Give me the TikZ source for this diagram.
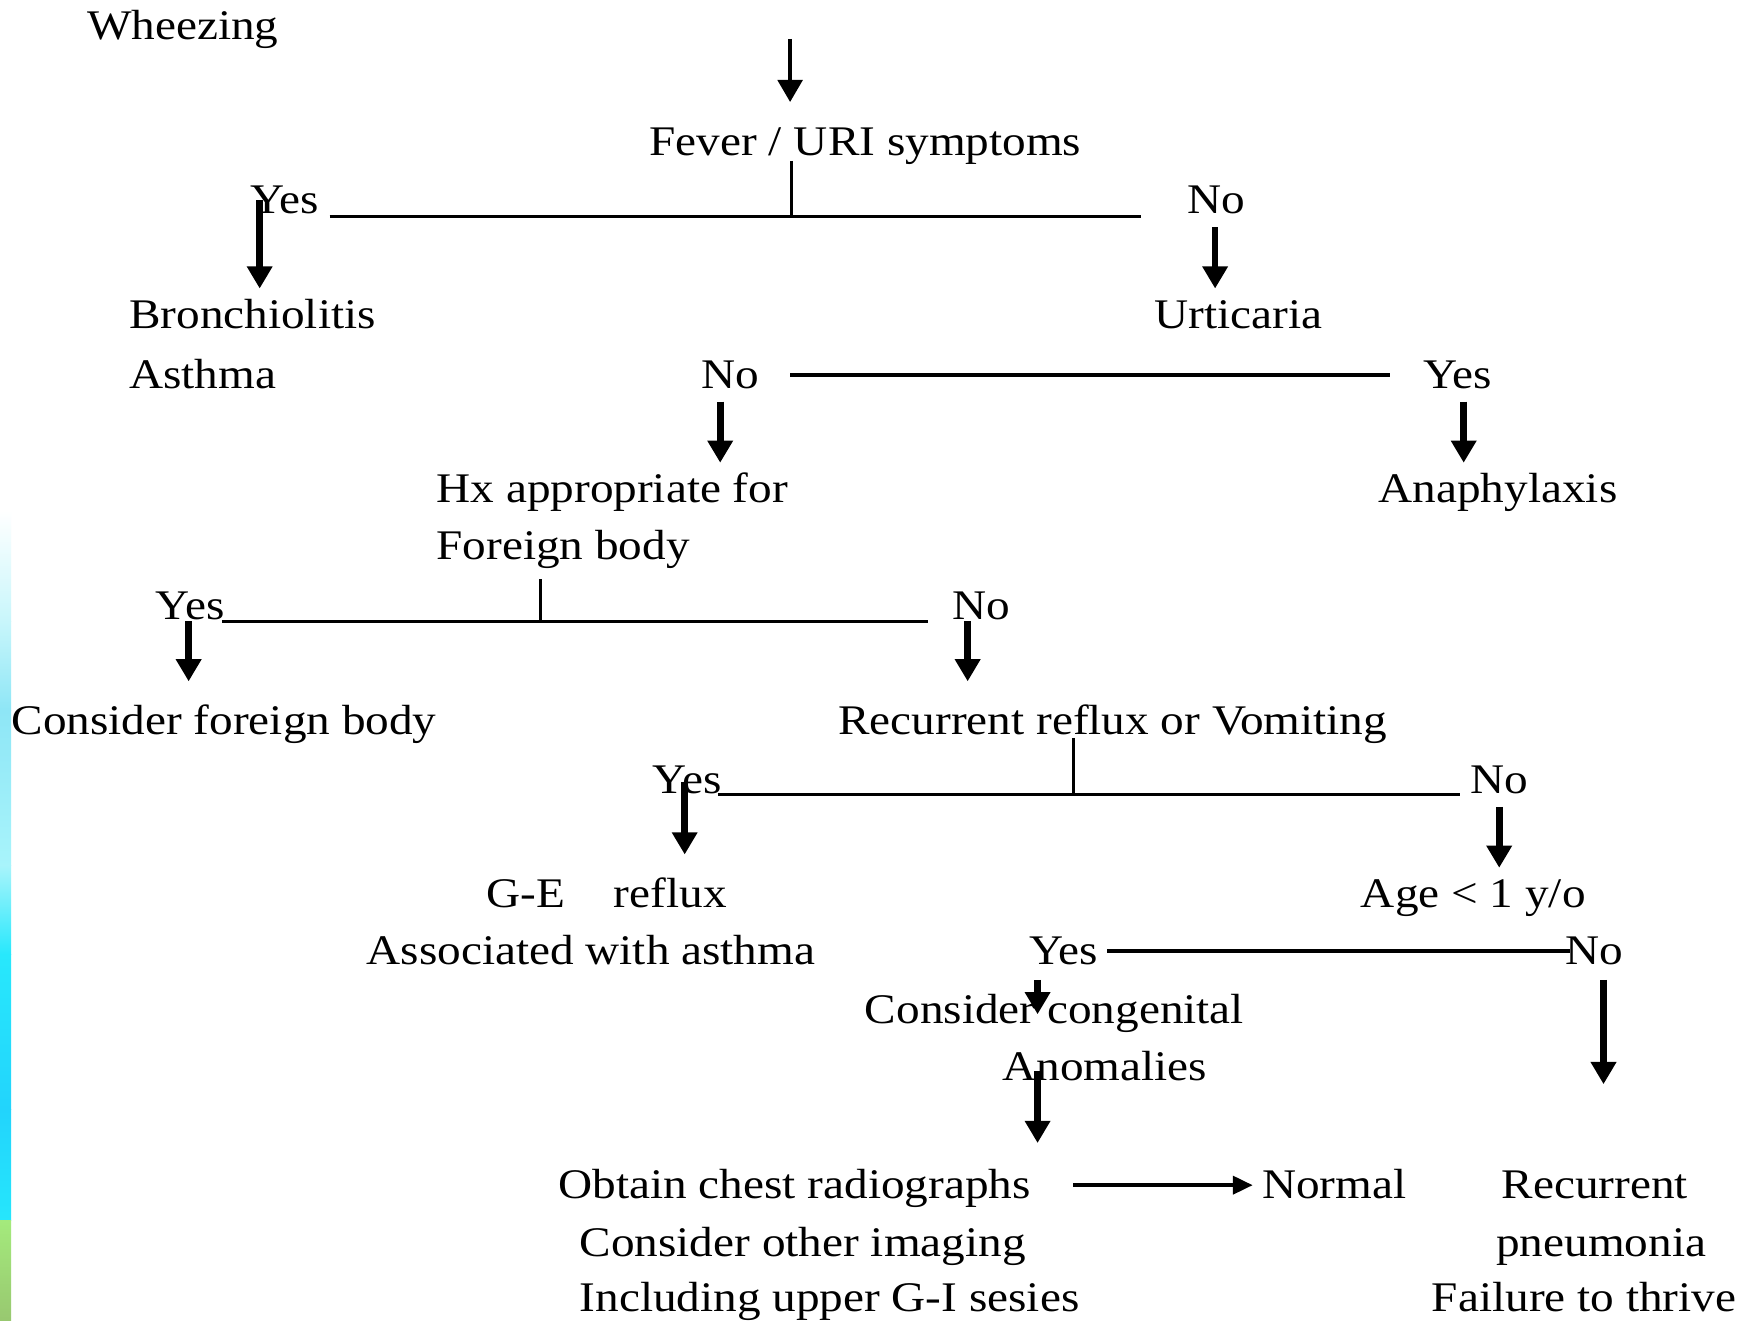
\documentclass[tikz,border=0pt]{standalone}
\usepackage{fontspec}
\setmainfont{Liberation Serif}[FakeStretch=1.12]
\usetikzlibrary{arrows.meta}
\definecolor{sA}{HTML}{C8F6FB}
\definecolor{sB}{HTML}{8EE6F6}
\definecolor{sC}{HTML}{A8F4FB}
\definecolor{sD}{HTML}{28E8FC}
\definecolor{sE}{HTML}{22D4FC}
\definecolor{sF}{HTML}{26E6FC}
\definecolor{gA}{HTML}{A4EA7C}
\definecolor{gB}{HTML}{98C870}
\begin{document}
\begin{tikzpicture}[x=0.5pt,y=-0.5pt,
  txt/.style={inner sep=0pt,anchor=base west,font=\fontsize{19}{27}\selectfont},
  arr/.style={line width=3pt,-{Triangle[width=11pt,length=10pt]}},
  harr/.style={line width=2pt,-{Triangle[width=8pt,length=9pt]}},
  hline/.style={line width=1.7pt},
  stub/.style={line width=1.4pt}]
\useasboundingbox (0,0) rectangle (1568,1190);
\fill[white] (0,0) rectangle (1568,1190);
% left strip
\shade[top color=white,bottom color=sA] (0,460) rectangle (10,560);
\shade[top color=sA,bottom color=sB] (0,560) rectangle (10,640);
\shade[top color=sB,bottom color=sC] (0,640) rectangle (10,780);
\shade[top color=sC,bottom color=sD] (0,780) rectangle (10,860);
\shade[top color=sD,bottom color=sE] (0,860) rectangle (10,1000);
\shade[top color=sE,bottom color=sF] (0,1000) rectangle (10,1100);
\shade[top color=gA,bottom color=gB] (0,1100) rectangle (10,1190);

% texts
\node[txt] (wheez) at (78,36) {Wheezing};
\node[txt] (fever) at (585,140) {Fever / URI symptoms};
\node[txt] (yes1) at (225,192) {Yes};
\node[txt] (no1) at (1070,192) {No};
\node[txt] (bron) at (116,296) {Bronchiolitis};
\node[txt] (asth) at (116,350) {Asthma};
\node[txt] (urt) at (1040,296) {Urticaria};
\node[txt] (no2) at (632,350) {No};
\node[txt] (yes2) at (1282,350) {Yes};
\node[txt] (hx) at (393,453) {Hx appropriate for};
\node[txt] (fb) at (393,504) {Foreign body};
\node[txt] (ana) at (1242,453) {Anaphylaxis};
\node[txt] (yes3) at (140,558) {Yes};
\node[txt] (no3) at (858,558) {No};
\node[txt] (cfb) at (10,662) {Consider foreign body};
\node[txt] (rrv) at (755,662) {Recurrent reflux or Vomiting};
\node[txt] (yes4) at (588,715) {Yes};
\node[txt] (no4) at (1325,715) {No};
\node[txt] (ge) at (438,818) {G-E\hspace{22pt}reflux};
\node[txt] (assoc) at (330,869) {Associated with asthma};
\node[txt] (age) at (1226,818) {Age < 1 y/o};
\node[txt] (yes5) at (927,869) {Yes};
\node[txt] (no5) at (1410,869) {No};
\node[txt] (cc) at (779,922) {Consider congenital};
\node[txt] (anom) at (903,974) {Anomalies};
\node[txt] (obt) at (503,1080) {Obtain chest radiographs};
\node[txt] (coi) at (522,1132) {Consider other imaging};
\node[txt] (inc) at (522,1182) {Including upper G-I sesies};
\node[txt] (norm) at (1137,1080) {Normal};
\node[txt] (rec) at (1353,1080) {Recurrent};
\node[txt] (pneu) at (1348,1132) {pneumonia};
\node[txt] (ftt) at (1290,1182) {Failure to thrive};

% connector coordinates
\coordinate (t0) at (712,35);   \coordinate (t1) at (712,92);
\coordinate (s1a) at (713,145); \coordinate (s1b) at (713,195);
\coordinate (h1a) at (297,195); \coordinate (h1b) at (1028,195);
\coordinate (a1a) at (234,180); \coordinate (a1b) at (234,260);
\coordinate (a2a) at (1095,205); \coordinate (a2b) at (1095,260);
\coordinate (h2a) at (712,338); \coordinate (h2b) at (1253,338);
\coordinate (a3a) at (649,362); \coordinate (a3b) at (649,417);
\coordinate (a4a) at (1319,362); \coordinate (a4b) at (1319,417);
\coordinate (s2a) at (487,522); \coordinate (s2b) at (487,560);
\coordinate (h3a) at (200,560); \coordinate (h3b) at (836,560);
\coordinate (a5a) at (170,560); \coordinate (a5b) at (170,614);
\coordinate (a6a) at (872,560); \coordinate (a6b) at (872,614);
\coordinate (s3a) at (967,665); \coordinate (s3b) at (967,716);
\coordinate (h4a) at (647,716); \coordinate (h4b) at (1316,716);
\coordinate (a7a) at (617,705); \coordinate (a7b) at (617,770);
\coordinate (a8a) at (1351,727); \coordinate (a8b) at (1351,782);
\coordinate (h5a) at (998,857); \coordinate (h5b) at (1415,857);
\coordinate (a9a) at (935,883); \coordinate (a9b) at (935,914);
\coordinate (a10a) at (935,965); \coordinate (a10b) at (935,1030);
\coordinate (a11a) at (1445,883); \coordinate (a11b) at (1445,977);
\coordinate (a12a) at (967,1068); \coordinate (a12b) at (1129,1068);

% connectors
\draw[arr,line width=2pt] (t0) -- (t1);
\draw[stub] (s1a) -- (s1b);
\draw[hline] (h1a) -- (h1b);
\draw[arr] (a1a) -- (a1b);
\draw[arr] (a2a) -- (a2b);
\draw[hline] (h2a) -- (h2b);
\draw[arr] (a3a) -- (a3b);
\draw[arr] (a4a) -- (a4b);
\draw[stub] (s2a) -- (s2b);
\draw[hline] (h3a) -- (h3b);
\draw[arr] (a5a) -- (a5b);
\draw[arr] (a6a) -- (a6b);
\draw[stub] (s3a) -- (s3b);
\draw[hline] (h4a) -- (h4b);
\draw[arr] (a7a) -- (a7b);
\draw[arr] (a8a) -- (a8b);
\draw[hline] (h5a) -- (h5b);
\draw[arr] (a9a) -- (a9b);
\draw[arr] (a10a) -- (a10b);
\draw[arr] (a11a) -- (a11b);
\draw[harr] (a12a) -- (a12b);
\end{tikzpicture}
\end{document}
